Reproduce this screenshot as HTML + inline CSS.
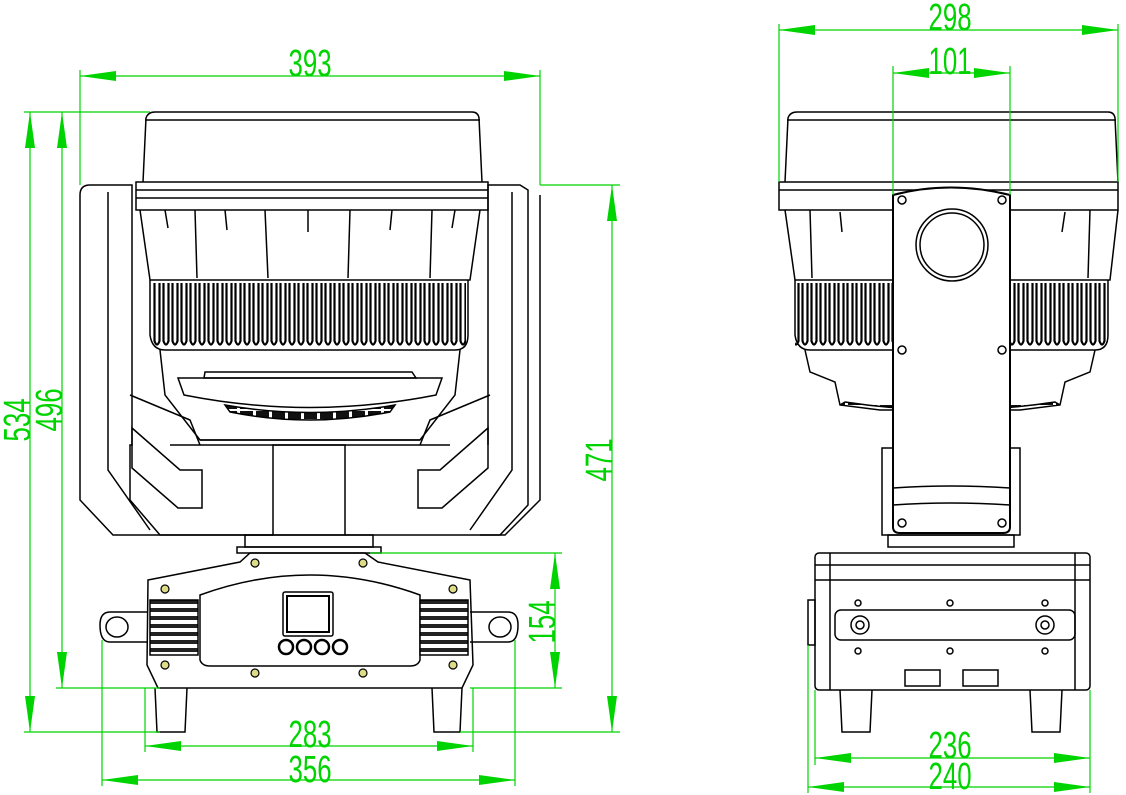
<!DOCTYPE html>
<html><head><meta charset="utf-8"><style>
html,body{margin:0;padding:0;background:#fff;}
svg{display:block;}
text{font-family:"Liberation Sans",sans-serif;fill:#00d400;font-size:38px;}
</style></head><body>
<svg width="1126" height="795" viewBox="0 0 1126 795" xmlns="http://www.w3.org/2000/svg">
<defs>
<pattern id="fins" x="0" y="283" width="9" height="66" patternUnits="userSpaceOnUse">
<rect x="0" y="0" width="9" height="66" fill="#fff"/>
<path d="M1.5 0 V58 Q4 65 6.5 58 V0" fill="none" stroke="#000" stroke-width="2.2"/>
</pattern>
<pattern id="vent" width="16" height="10" patternUnits="userSpaceOnUse">
<rect width="16" height="10" fill="#fff"/><rect x="0" y="1" width="13" height="8" fill="#111"/>
</pattern>
<pattern id="grill" width="40" height="8" patternUnits="userSpaceOnUse">
<rect width="40" height="8" fill="#fff"/><rect x="0" y="0" width="40" height="4" fill="#222"/>
</pattern>
<marker id="a" markerWidth="36" markerHeight="12" refX="36" refY="6" orient="auto-start-reverse" markerUnits="userSpaceOnUse">
<path d="M36 6 L0 1 L0 11 Z" fill="#00d400"/>
</marker>
</defs>

<g fill="none" stroke="#000" stroke-width="1.5">
<path d="M90 185 H132 V445 H130 V500 L160 535 H273 M480 535 H500 L528 505 V190 L520 185 H488 V445"/>
<path d="M80 195 Q80 185 90 185 M80 195 V500 L113 535 H273 M540 195 V500 L505 535 H345"/>
<path d="M108 192 V470 L150 530 M512 192 V470 L470 530"/>
<path d="M130 395 L190 420 L200 445 M490 395 L430 420 L420 445"/>
<path d="M132 428 L180 470 H202 V508 H178 L132 468 Z"/>
<path d="M488 428 L440 470 H418 V508 H442 L488 468 Z"/>
<path d="M143 182 L146 118 Q148 112 155 112 H472 Q478 112 479 118 L482 182"/>
<path d="M145 120 H480"/>
<rect x="136" y="182" width="352" height="28"/>
<path d="M136 190 H488 M136 198 H488"/>
<path d="M140 210 L150 280 H470 L480 210"/>
<path d="M195 210 L197 278 M265 210 L268 278 M350 210 L348 278 M432 210 L430 278"/>
<path d="M165 210 L168 228 M225 210 L227 230 M308 210 L308 232 M392 210 L390 230 M455 210 L452 228"/>
<rect x="152" y="283" width="314" height="66" fill="url(#fins)" stroke="none"/>
<path d="M150 280 V335 Q152 350 165 350 H455 Q468 350 468 335 V280"/>
<path d="M160 350 L165 395 L200 440 H420 L455 395 L460 350"/>
<path d="M178 378 H442 L436 395 Q310 420 184 395 Z"/>
<path d="M205 372 H412 L416 378 H204 Z"/>
<path d="M225 405 Q310 420 395 405 L390 412 Q310 428 230 412 Z" fill="url(#vent)"/>
<path d="M200 440 H420 M170 445 H450"/>
<rect x="273" y="445" width="72" height="90"/>
<rect x="245" y="535" width="128" height="12"/>
<rect x="237" y="547" width="144" height="6"/>
<path d="M148 580 L240 562 L250 553 H365 L378 562 L470 580 L473 665 L462 688 H158 L147 665 Z"/>
<path d="M200 595 Q310 555 420 595 L420 660 Q418 666 410 666 H210 Q202 666 200 660 Z"/>
<rect x="283" y="592" width="50" height="44" rx="2"/>
<rect x="287" y="596" width="42" height="36" stroke-width="2"/>
<circle cx="286" cy="647" r="7" stroke-width="2.5"/>
<circle cx="304" cy="647" r="7" stroke-width="2.5"/>
<circle cx="322" cy="647" r="7" stroke-width="2.5"/>
<circle cx="340" cy="647" r="7" stroke-width="2.5"/>
<rect x="150" y="600" width="48" height="55" fill="url(#grill)"/>
<rect x="420" y="600" width="48" height="55" fill="url(#grill)"/>
<path d="M148 612 H110 Q100 612 100 625 Q100 642 110 642 H148"/>
<ellipse cx="117" cy="627" rx="11" ry="10"/>
<path d="M470 612 H508 Q518 612 518 625 Q518 642 508 642 H470"/>
<ellipse cx="500" cy="627" rx="11" ry="10"/>
<path d="M155 688 L157 732 H185 L187 688 M432 688 L434 732 H460 L462 688"/>
<g fill="#dd8" stroke-width="1.2">
<circle cx="165" cy="589" r="4"/><circle cx="453" cy="589" r="4"/>
<circle cx="255" cy="563" r="4"/><circle cx="363" cy="563" r="4"/>
<circle cx="165" cy="665" r="4"/><circle cx="453" cy="665" r="4"/>
<circle cx="255" cy="673" r="4"/><circle cx="363" cy="673" r="4"/>
</g>

<path d="M785 182 L788 118 Q790 112 797 112 H1108 Q1114 112 1115 118 L1118 182"/>
<path d="M787 120 H1116"/>
<rect x="779" y="182" width="339" height="28"/>
<path d="M779 190 H1118"/>
<path d="M785 210 L795 280 H1110 L1118 210"/>
<path d="M810 210 L812 278 M1090 210 L1088 278 M840 212 L842 232 M1065 212 L1062 232"/>
<rect x="795" y="283" width="313" height="66" fill="url(#fins)" stroke="none"/>
<path d="M795 280 V335 Q797 350 810 350 H1095 Q1108 350 1108 335 V280"/>
<path d="M805 350 L810 372 L835 382 L840 405 L880 410 H1020 L1060 405 L1065 382 L1090 372 L1095 350"/>
<path d="M840 405 L845 402 Q950 418 1055 402 L1060 405" fill="url(#vent)"/>
<rect x="882" y="448" width="138" height="87"/>
<path d="M893 195 Q950 180 1010 195 V527 Q1010 533 1003 533 H900 Q893 533 893 527 Z" fill="#fff" stroke-width="2"/>
<path d="M893 488 Q950 484 1010 488 M893 505 Q950 501 1010 505"/>
<circle cx="952" cy="245" r="36"/>
<circle cx="952" cy="245" r="32"/>
<g fill="#fff"><circle cx="902" cy="200" r="4"/><circle cx="1002" cy="200" r="4"/>
<circle cx="902" cy="350" r="4"/><circle cx="1002" cy="350" r="4"/>
<circle cx="902" cy="523" r="4"/><circle cx="1002" cy="523" r="4"/></g>
<rect x="888" y="535" width="126" height="12"/>
<rect x="815" y="553" width="275" height="137" rx="4"/>
<path d="M830 553 V690 M1075 553 V690 M808 600 H815 V645 H808 Z"/>
<path d="M815 565 H1090 M815 580 H1090"/>
<rect x="835" y="610" width="240" height="30" rx="6"/>
<circle cx="860" cy="625" r="9"/><circle cx="860" cy="625" r="4"/>
<circle cx="1045" cy="625" r="9"/><circle cx="1045" cy="625" r="4"/>
<g fill="#fff"><circle cx="858" cy="603" r="3"/><circle cx="950" cy="603" r="3"/><circle cx="1045" cy="603" r="3"/>
<circle cx="858" cy="651" r="3"/><circle cx="950" cy="651" r="3"/><circle cx="1045" cy="651" r="3"/></g>
<path d="M905 670 H940 V686 H905 Z M963 670 H998 V686 H963 Z"/>
<path d="M840 690 L842 732 H870 L872 690 M1030 690 L1032 732 H1060 L1062 690"/>
</g>

<g stroke="#00d400" stroke-width="1.2" fill="none">
<path d="M80 70 V185 M540 70 V185"/>
<path d="M24 112 H150 M24 732 H160 M56 688 H160"/>
<path d="M540 185 H620 M460 732 H620 M370 553 H562 M470 688 H562"/>
<path d="M145 688 V752 M473 688 V752 M102 640 V786 M515 640 V786"/>
<path d="M80 76 H540" marker-start="url(#a)" marker-end="url(#a)"/>
<path d="M30 112 V732" marker-start="url(#a)" marker-end="url(#a)"/>
<path d="M62 112 V688" marker-start="url(#a)" marker-end="url(#a)"/>
<path d="M612 185 V732" marker-start="url(#a)" marker-end="url(#a)"/>
<path d="M555 553 V688" marker-start="url(#a)" marker-end="url(#a)"/>
<path d="M145 746 H473" marker-start="url(#a)" marker-end="url(#a)"/>
<path d="M102 780 H515" marker-start="url(#a)" marker-end="url(#a)"/>
<path d="M779 24 V182 M1118 24 V182 M893 66 V195 M1010 66 V195"/>
<path d="M815 690 V765 M1090 690 V793 M808 645 V793"/>
<path d="M779 30 H1118" marker-start="url(#a)" marker-end="url(#a)"/>
<path d="M893 73 H1010" marker-start="url(#a)" marker-end="url(#a)"/>
<path d="M815 758 H1090" marker-start="url(#a)" marker-end="url(#a)"/>
<path d="M808 787 H1090" marker-start="url(#a)" marker-end="url(#a)"/>
</g>
<g>
<text transform="translate(310 76) scale(0.68 1)" text-anchor="middle">393</text>
<text transform="translate(310 747) scale(0.68 1)" text-anchor="middle">283</text>
<text transform="translate(310 782) scale(0.68 1)" text-anchor="middle">356</text>
<text transform="translate(950 30) scale(0.68 1)" text-anchor="middle">298</text>
<text transform="translate(950 74) scale(0.68 1)" text-anchor="middle">101</text>
<text transform="translate(950 758) scale(0.68 1)" text-anchor="middle">236</text>
<text transform="translate(950 789) scale(0.68 1)" text-anchor="middle">240</text>
<text transform="translate(30 420) rotate(-90) scale(0.68 1)" text-anchor="middle">534</text>
<text transform="translate(62 410) rotate(-90) scale(0.68 1)" text-anchor="middle">496</text>
<text transform="translate(612 460) rotate(-90) scale(0.68 1)" text-anchor="middle">471</text>
<text transform="translate(555 622) rotate(-90) scale(0.68 1)" text-anchor="middle">154</text>
</g>
</svg>
</body></html>
